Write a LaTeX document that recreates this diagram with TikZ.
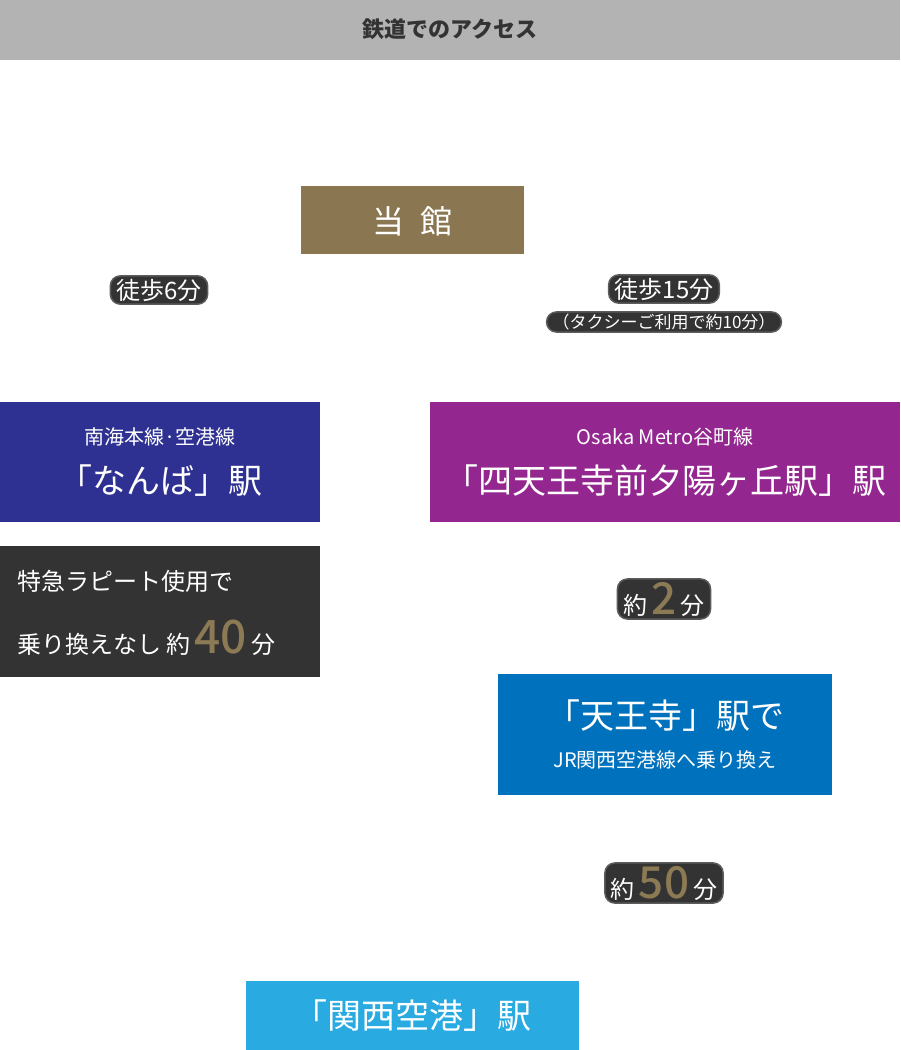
\documentclass[tikz,border=0pt]{standalone}
\usepackage{fontspec}
\setmainfont{Noto Sans CJK JP}
\newfontfamily\numfont{Noto Sans CJK JP Medium}
\definecolor{hdrgray}{HTML}{B3B3B3}
\definecolor{hotelgold}{HTML}{8A7650}
\definecolor{nankaiblue}{HTML}{2E3192}
\definecolor{metropurple}{HTML}{93278F}
\definecolor{darkbox}{HTML}{333333}
\definecolor{jrblue}{HTML}{0071BC}
\definecolor{kixblue}{HTML}{29ABE2}
\definecolor{numgold}{HTML}{8C7A55}
\tikzset{
  box/.style={draw=none,inner sep=0pt,anchor=north west},
  wt/.style={text=white,align=center,inner sep=0pt},
  tag/.style={fill=darkbox,text=white,rounded corners=10pt,inner xsep=6pt,inner ysep=3pt,draw=darkbox!80,line width=1.5pt},
  big/.style={text=numgold,font=\fontsize{46}{46}\selectfont\numfont}
}
\begin{document}
\begin{tikzpicture}[x=1pt,y=-1pt]
\useasboundingbox (0,0) rectangle (900,1050);
% header
\fill[hdrgray] (0,0) rectangle (900,60);
\node[font=\fontsize{22}{22}\selectfont\bfseries,text=darkbox] (hdr) at (450,29) {鉄道でのアクセス};
% boxes
\fill[hotelgold] (301,186) rectangle (524,254);
\node[wt,font=\fontsize{32}{32}\selectfont] (hotel) at (412,221) {当\hspace{0.5em}館};
\fill[nankaiblue] (0,402) rectangle (320,522);
\node[wt,font=\fontsize{20}{20}\selectfont] (nankai1) at (160,437) {南海本線·空港線};
\node[wt,font=\fontsize{34}{34}\selectfont] (nankai2) at (160,481) {「なんば」駅};
\fill[metropurple] (430,402) rectangle (900,522);
\node[wt,font=\fontsize{20}{20}\selectfont] (metro1) at (665,437) {Osaka Metro谷町線};
\node[wt,font=\fontsize{34}{34}\selectfont] (metro2) at (665,481) {「四天王寺前夕陽ヶ丘駅」駅};
\fill[darkbox] (0,546) rectangle (320,677);
\node[wt,anchor=west,font=\fontsize{24}{24}\selectfont] (rapit1) at (17,581) {特急ラピート使用で};
\node[wt,anchor=west,font=\fontsize{24}{24}\selectfont] (rapit2) at (17,638) {乗り換えなし 約\,{\color{numgold}\fontsize{46}{46}\selectfont\numfont 40}\,分};
\fill[jrblue] (498,674) rectangle (832,795);
\node[wt,font=\fontsize{34}{34}\selectfont] (tennoji1) at (665,716) {「天王寺」駅で};
\node[wt,font=\fontsize{20}{20}\selectfont] (tennoji2) at (665,760) {JR関西空港線へ乗り換え};
\fill[kixblue] (246,981) rectangle (579,1050);
\node[wt,font=\fontsize{34}{34}\selectfont] (kix) at (412,1016) {「関西空港」駅};
% time tags
\node[tag,font=\fontsize{24}{24}\selectfont] (walk6) at (159,290) {徒歩6分};
\node[tag,font=\fontsize{17}{17}\selectfont,inner ysep=2pt] (taxi) at (664,322) {（タクシーご利用で約10分）};
\node[tag,font=\fontsize{24}{24}\selectfont] (walk15) at (664,289) {徒歩15分};
\node[tag,font=\fontsize{24}{24}\selectfont] (min2) at (664,599) {約\,{\color{numgold}\fontsize{44}{44}\selectfont\numfont 2}\,分};
\node[tag,font=\fontsize{24}{24}\selectfont] (min50) at (664,883) {約\,{\color{numgold}\fontsize{44}{44}\selectfont\numfont 50}\,分};
\end{tikzpicture}
\end{document}
